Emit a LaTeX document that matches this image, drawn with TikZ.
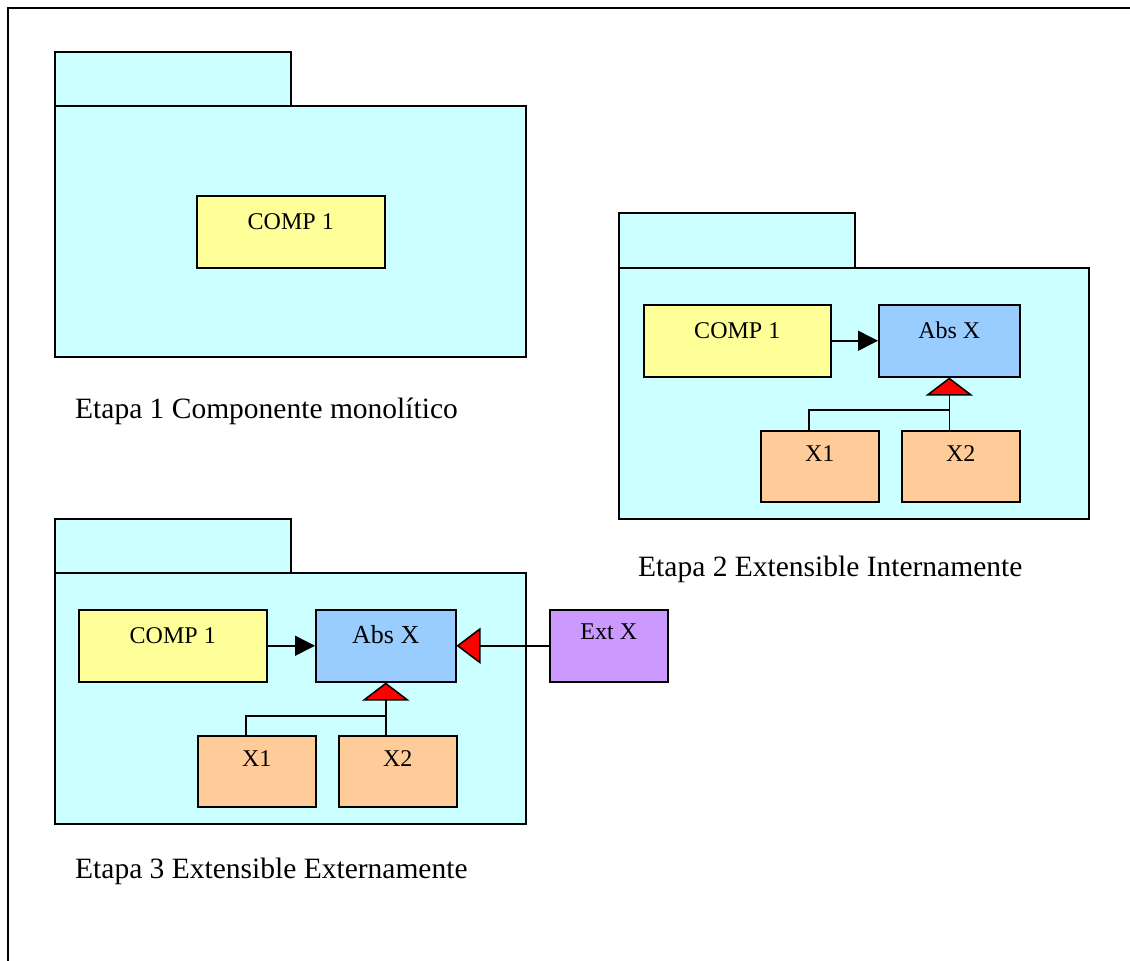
\documentclass[tikz,border=0pt]{standalone}
\usepackage{fontspec}
\setmainfont{Liberation Serif}
\usetikzlibrary{arrows.meta}

\definecolor{pkgcyan}{HTML}{CCFFFF}
\definecolor{compyellow}{HTML}{FFFF99}
\definecolor{absblue}{HTML}{99CCFF}
\definecolor{subpeach}{HTML}{FFCC99}
\definecolor{extlilac}{HTML}{CC99FF}

\begin{document}
\begin{tikzpicture}[
    x=1pt,y=-1pt,
    pkg/.style={draw, line width=1.5pt, fill=pkgcyan},
    box/.style={draw, line width=1.5pt, anchor=north west, inner sep=0pt,
      minimum width=#1, text height=34pt, text depth=38pt,
      font=\fontsize{24}{28}\selectfont},
    sub/.style={box=118, fill=subpeach, text height=31pt, text depth=40pt},
    caption/.style={anchor=base west, inner sep=0pt, font=\fontsize{29.5}{34}\selectfont},
    uses/.style={line width=1.5pt, -{Triangle[length=20pt,width=20pt]}},
    inh/.style={line width=1.5pt, -{Triangle[length=18pt,width=47pt,fill=red]}},
    inhext/.style={line width=1.5pt, -{Triangle[length=24pt,width=36pt,fill=red]}}
    ]
    \useasboundingbox (0,0) rectangle (1130,961);
    \draw[line width=2pt] (1130,8) -- (8,8) -- (8,961);

    % Etapa 1
    \filldraw[pkg] (55,52) rectangle (291,106);
    \filldraw[pkg] (55,106) rectangle (526,357);
    \node[box=188, fill=compyellow] (comp-a) at (196,195) {COMP 1};
    \node[caption] (etapa-a) at (75,418) {Etapa 1 Componente monolítico};

    % Etapa 2
    \filldraw[pkg] (619,213) rectangle (855,268);
    \filldraw[pkg] (619,268) rectangle (1089,519);
    \node[box=187, fill=compyellow] (comp-b) at (643,304) {COMP 1};
    \node[box=141, fill=absblue] (abs-b) at (878,304) {Abs X};
    \node[sub] (xa-b) at (760,430) {X1};
    \node[sub] (xb-b) at (901,430) {X2};
    \coordinate (join-b) at (abs-b.south |- 0,410);
    \draw[uses] (comp-b) -- (abs-b);
    \draw[inh] (abs-b.south |- xb-b.north) -- (abs-b.south);
    \draw[line width=1.5pt] (join-b) -| ([xshift=-11pt]xa-b.north);
    \node[caption] (etapa-b) at (638,576) {Etapa 2 Extensible Internamente};

    % Etapa 3
    \filldraw[pkg] (55,519) rectangle (291,573);
    \filldraw[pkg] (55,573) rectangle (526,824);
    \node[box=188, fill=compyellow] (comp-c) at (78,609) {COMP 1};
    \node[box=140, fill=absblue, font=\fontsize{26}{30}\selectfont] (abs-c) at (315,609) {Abs X};
    \node[sub] (xa-c) at (197,735) {X1};
    \node[sub] (xb-c) at (338,735) {X2};
    \node[box=118, fill=extlilac, text height=30pt, text depth=42pt] (ext-c) at (549,609) {Ext X\hspace{20pt}};
    \coordinate (join-c) at (abs-c.south |- 0,716);
    \draw[uses] (comp-c) -- (abs-c);
    \draw[inh] (abs-c.south |- xb-c.north) -- (abs-c.south);
    \draw[line width=1.5pt] (join-c) -| ([xshift=-11pt]xa-c.north);
    \draw[inhext] (ext-c) -- (abs-c);
    \node[caption] (etapa-c) at (75,878) {Etapa 3 Extensible Externamente};
  \end{tikzpicture}
\end{document}
